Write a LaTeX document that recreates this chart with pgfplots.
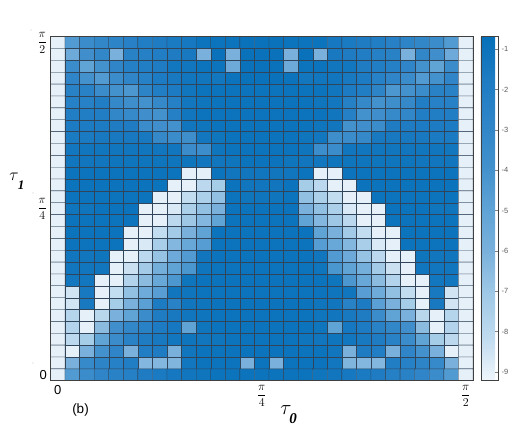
\documentclass[border=0pt]{standalone}
\usepackage{pgfplots}
\pgfplotsset{compat=1.18}
\usepackage{fontspec}
\setmainfont{Liberation Sans}
\newfontfamily\serifb{Liberation Serif}
\definecolor{frameg}{gray}{0.25}
\definecolor{gridc}{RGB}{48,68,90}
\begin{document}
\begin{tikzpicture}[x=1pt,y=1pt]
\path[use as bounding box] (0,0) rectangle (529,432);
\begin{axis}[
  at={(50.5pt,51.3pt)}, anchor=south west,
  scale only axis, width=422.5pt, height=344pt,
  xmin=-0.5, xmax=28.5, ymin=-0.5, ymax=28.5,
  axis line style={frameg, line width=0.5pt},
  major tick length=0pt,
  xtick={0,14,28}, xticklabels={0,{$\displaystyle\frac{\pi}{4}$},{$\displaystyle\frac{\pi}{2}$}},
  ytick={0,14,28}, yticklabels={{$\displaystyle\frac{\pi}{2}$},{$\displaystyle\frac{\pi}{4}$},0},
  tick label style={font=\fontsize{13}{14}\selectfont},
  xticklabel style={yshift=-1pt},
  colormap={wblue}{rgb255(0)=(240,246,252); rgb255(1)=(192,219,239); rgb255(2)=(160,201,230); rgb255(3)=(122,177,220); rgb255(4)=(95,163,214); rgb255(5)=(65,144,204); rgb255(6)=(47,133,200); rgb255(7)=(30,124,195); rgb255(8)=(5,112,185)},
  point meta min=-9.22, point meta max=-0.69,
  colorbar,
  colorbar style={
    at={(1.0189,1)}, anchor=north west,
    width=17pt, height=344pt,
    axis line style={frameg, line width=0.7pt},
    ytick={-9,-8,-7,-6,-5,-4,-3,-2,-1},
    yticklabels={-9,-8,-7,-6,-5,-4,-3,-2,-1},
    ytick pos=right, tick align=inside,
    major tick length=3pt,
    major tick style={gray},
    yticklabel style={font=\fontsize{7.5}{8}\selectfont, text=black!65, xshift=0pt},
  },
]
\addplot[matrix plot, mesh/cols=29, point meta=explicit, draw=gridc, line width=0.35pt]
table[x expr={mod(\coordindex,29)}, y expr={round((\coordindex-mod(\coordindex,29))/29)}, meta index=0, header=false, row sep=\\]{
-9\\-4.5\\-3.5\\-3\\-2.7\\-2.4\\-2\\-1.8\\-1.6\\-1.4\\-1\\-1\\-1\\-0.9\\-0.9\\-0.9\\-1\\-1\\-1\\-1.4\\-1.6\\-1.8\\-2\\-2.4\\-2.7\\-3\\-3.5\\-4.5\\-9\\
-9\\-5.5\\-3.8\\-3\\-6\\-2.5\\-2.2\\-2\\-1.8\\-1.5\\-6\\-0.9\\-6\\-0.9\\-0.9\\-0.9\\-6\\-0.9\\-6\\-1.5\\-1.8\\-2\\-2.2\\-2.5\\-6\\-3\\-3.8\\-5.5\\-9\\
-9\\-3.5\\-5\\-4\\-2.8\\-2.2\\-2\\-1.8\\-1.3\\-1.2\\-1\\-1\\-5.5\\-0.9\\-0.9\\-0.9\\-5.5\\-1\\-1\\-1.2\\-1.3\\-1.8\\-2\\-2.2\\-2.8\\-4\\-5\\-3.5\\-9\\
-9\\-2.8\\-4\\-4.5\\-3.5\\-2.8\\-2.3\\-1.7\\-1.5\\-1.2\\-1.2\\-1.3\\-1\\-0.9\\-0.9\\-0.9\\-1\\-1.3\\-1.2\\-1.2\\-1.5\\-1.7\\-2.3\\-2.8\\-3.5\\-4.5\\-4\\-2.8\\-9\\
-9\\-2.5\\-2.5\\-3.5\\-4\\-4.3\\-2.7\\-2\\-1.7\\-1.2\\-1\\-1\\-1\\-1\\-1\\-1\\-1\\-1\\-1\\-1.2\\-1.7\\-2\\-2.7\\-4.3\\-4\\-3.5\\-2.5\\-2.5\\-9\\
-9\\-2.3\\-2.3\\-2\\-3.2\\-3.7\\-4\\-3.2\\-2.2\\-1.3\\-1.1\\-1\\-1\\-1\\-1\\-1\\-1\\-1\\-1.1\\-1.3\\-2.2\\-3.2\\-4\\-3.7\\-3.2\\-2\\-2.3\\-2.3\\-9\\
-9\\-2\\-2\\-2\\-3\\-3.3\\-3.8\\-4\\-2.2\\-1.2\\-1\\-1\\-1\\-1\\-1\\-1\\-1\\-1\\-1\\-1.2\\-2.2\\-4\\-3.8\\-3.3\\-3\\-2\\-2\\-2\\-9\\
-9\\-1.7\\-1.7\\-1.7\\-1.8\\-1.8\\-3.5\\-3.8\\-4\\-1.2\\-1.1\\-1\\-1\\-1\\-1\\-1\\-1\\-1\\-1.1\\-1.2\\-4\\-3.8\\-3.5\\-1.8\\-1.8\\-1.7\\-1.7\\-1.7\\-9\\
-9\\-1.6\\-1.6\\-1.5\\-1.5\\-1.5\\-1.5\\-3.2\\-3.5\\-3.7\\-1.3\\-1.1\\-1\\-1\\-1\\-1\\-1\\-1.1\\-1.3\\-3.7\\-3.5\\-3.2\\-1.5\\-1.5\\-1.5\\-1.5\\-1.6\\-1.6\\-9\\
-9\\-1.3\\-1.2\\-1.2\\-1.2\\-1.2\\-1.2\\-1.2\\-1.2\\-3.5\\-3.6\\-1.1\\-1\\-1\\-1\\-1\\-1\\-1.1\\-3.6\\-3.5\\-1.2\\-1.2\\-1.2\\-1.2\\-1.2\\-1.2\\-1.2\\-1.3\\-9\\
-9\\-1.2\\-1.2\\-1.2\\-1.1\\-1.1\\-1.1\\-1.1\\-1.1\\-1.1\\-1.3\\-1.2\\-1.1\\-1\\-1\\-1\\-1.1\\-1.2\\-1.3\\-1.1\\-1.1\\-1.1\\-1.1\\-1.1\\-1.1\\-1.2\\-1.2\\-1.2\\-9\\
-9\\-1\\-1\\-1\\-1\\-1\\-1\\-1\\-1\\-9\\-9\\-1\\-1.2\\-1.2\\-1.2\\-1.2\\-1.2\\-1\\-9\\-9\\-1\\-1\\-1\\-1\\-1\\-1\\-1\\-1\\-9\\
-9\\-1\\-1\\-1\\-1\\-1\\-1\\-1\\-9\\-9\\-8\\-7.3\\-1\\-1.2\\-1.2\\-1.2\\-1\\-7.3\\-8\\-9\\-9\\-1\\-1\\-1\\-1\\-1\\-1\\-1\\-9\\
-9\\-1\\-1\\-1\\-1\\-1\\-1\\-9\\-9\\-8.2\\-7.5\\-6.7\\-1\\-1.1\\-1.1\\-1.1\\-1\\-6.7\\-7.5\\-8.2\\-9\\-9\\-1\\-1\\-1\\-1\\-1\\-1\\-9\\
-9\\-1.1\\-1.1\\-1\\-1\\-1\\-9\\-9\\-8.7\\-7.5\\-6.7\\-6\\-1\\-1\\-1\\-1\\-1\\-6\\-6.7\\-7.5\\-8.7\\-9\\-9\\-1\\-1\\-1\\-1.1\\-1.1\\-9\\
-9\\-1\\-1\\-1\\-1\\-1\\-9\\-9\\-8\\-7\\-6.3\\-5\\-1\\-1\\-1\\-1\\-1\\-5\\-6.3\\-7\\-8\\-9\\-9\\-1\\-1\\-1\\-1\\-1\\-9\\
-9\\-1\\-1\\-1\\-1\\-9\\-9\\-8.2\\-7.2\\-6\\-5\\-1\\-1\\-1\\-1\\-1\\-1\\-1\\-5\\-6\\-7.2\\-8.2\\-9\\-9\\-1\\-1\\-1\\-1\\-9\\
-9\\-1\\-1\\-1\\-1\\-9\\-8.7\\-7.4\\-6.3\\-5.3\\-4.6\\-1\\-1\\-1\\-1\\-1\\-1\\-1\\-4.6\\-5.3\\-6.3\\-7.4\\-8.7\\-9\\-1\\-1\\-1\\-1\\-9\\
-9\\-1.2\\-1.2\\-1.1\\-9\\-9\\-8\\-6.8\\-5.5\\-4.5\\-1.2\\-1\\-1\\-1\\-1\\-1\\-1\\-1\\-1.2\\-4.5\\-5.5\\-6.8\\-8\\-9\\-9\\-1.1\\-1.2\\-1.2\\-9\\
-9\\-1.2\\-1.2\\-1.2\\-9\\-8.4\\-7.2\\-5.8\\-5\\-4.2\\-1.1\\-1\\-1\\-1\\-1\\-1\\-1\\-1\\-1.1\\-4.2\\-5\\-5.8\\-7.2\\-8.4\\-9\\-1.2\\-1.2\\-1.2\\-9\\
-9\\-1.3\\-1.3\\-9\\-9\\-7.7\\-6.5\\-5.3\\-4.3\\-1.1\\-1\\-1\\-1\\-1\\-1\\-1\\-1\\-1\\-1\\-1.1\\-4.3\\-5.3\\-6.5\\-7.7\\-9\\-9\\-1.3\\-1.3\\-9\\
-9\\-8.5\\-1.5\\-9\\-8.2\\-6.7\\-5.6\\-4.7\\-1.2\\-1.1\\-1\\-1\\-1\\-1\\-1\\-1\\-1\\-1\\-1\\-1.1\\-1.2\\-4.7\\-5.6\\-6.7\\-8.2\\-9\\-1.5\\-8.5\\-9\\
-9\\-8.5\\-1.5\\-9\\-7.3\\-6\\-4.8\\-1.7\\-2.5\\-1.2\\-1.1\\-1\\-1\\-1\\-1\\-1\\-1\\-1\\-1.1\\-1.2\\-2.5\\-1.7\\-4.8\\-6\\-7.3\\-9\\-1.5\\-8.5\\-9\\
-9\\-7.8\\-9\\-7.9\\-6\\-5\\-3.5\\-1.8\\-1.5\\-1.2\\-1.1\\-1\\-1\\-1\\-1\\-1\\-1\\-1\\-1.1\\-1.2\\-1.5\\-1.8\\-3.5\\-5\\-6\\-7.9\\-9\\-7.8\\-9\\
-9\\-7.7\\-9\\-6.5\\-3.8\\-3\\-2.5\\-1.7\\-1.4\\-5\\-1.1\\-1\\-1\\-1\\-1\\-1\\-1\\-1\\-1.1\\-5\\-1.4\\-1.7\\-2.5\\-3\\-3.8\\-6.5\\-9\\-7.7\\-9\\
-9\\-8\\-7.3\\-5\\-3.5\\-2.5\\-1.8\\-1.5\\-1.3\\-1.1\\-1.2\\-1.1\\-1\\-1\\-1\\-1\\-1\\-1.1\\-1.2\\-1.1\\-1.3\\-1.5\\-1.8\\-2.5\\-3.5\\-5\\-7.3\\-8\\-9\\
-9\\-9\\-6\\-4\\-2.8\\-6\\-2\\-1.8\\-6\\-1.2\\-1\\-1\\-1\\-1\\-1\\-1\\-1\\-1\\-1\\-1.2\\-6\\-1.8\\-2\\-6\\-2.8\\-4\\-6\\-9\\-9\\
-9\\-6\\-3.3\\-2.7\\-2.3\\-2\\-6.3\\-6.3\\-6.2\\-1.3\\-1\\-1\\-1\\-6\\-1\\-6\\-1\\-1\\-1\\-1.3\\-6.2\\-6.3\\-6.3\\-2\\-2.3\\-2.7\\-3.3\\-6\\-9\\
-9\\-4.5\\-3.5\\-2.8\\-2.5\\-2.2\\-1.8\\-1.6\\-1.4\\-1.2\\-1.1\\-1\\-1\\-1\\-1\\-1\\-1\\-1\\-1.1\\-1.2\\-1.4\\-1.6\\-1.8\\-2.2\\-2.5\\-2.8\\-3.5\\-4.5\\-9\\
};
\end{axis}
\node[inner sep=0pt,font=\fontsize{13.5}{14}\selectfont] at (80.5,22) {(b)};
\node[inner sep=0pt,font=\fontsize{21}{22}\selectfont] at (286,22) {$\tau$};
\node[inner sep=0pt,font=\fontsize{15}{16}\serifb\bfseries\itshape] at (293,13) {0};
\node[inner sep=0pt,font=\fontsize{18}{20}\selectfont] at (14,255) {$\tau$};
\node[inner sep=0pt,font=\fontsize{13}{14}\serifb\bfseries\itshape] at (21,247) {1};
\fill[black!60] (31,402) circle (0.4);
\fill[black!60] (33,239) circle (0.4);
\fill[black!60] (33,69) circle (0.4);
\end{tikzpicture}
\end{document}
